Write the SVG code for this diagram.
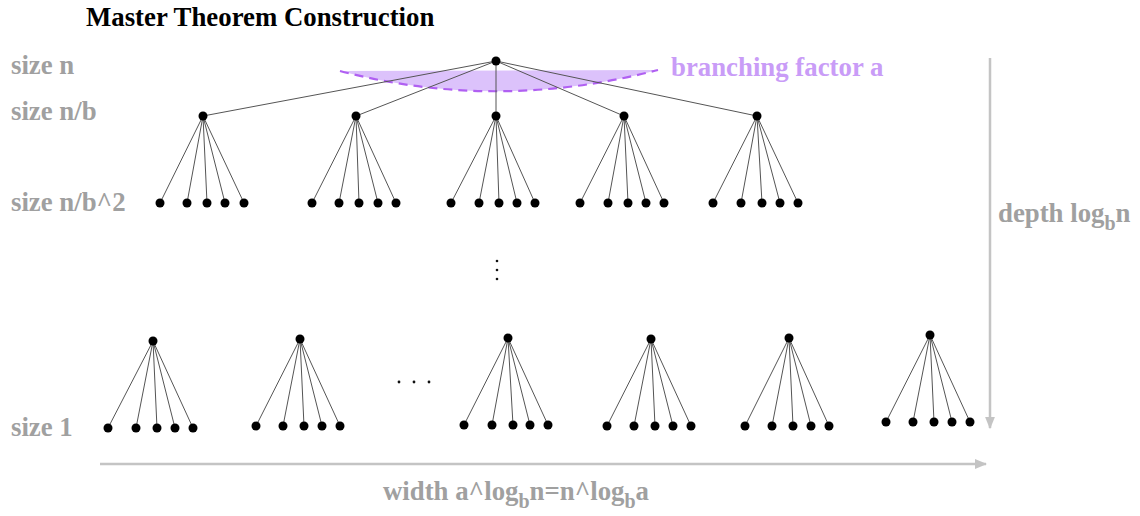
<svg xmlns="http://www.w3.org/2000/svg" width="1140" height="516" viewBox="0 0 1140 516">
  <defs>
    <style>
      .title { font-family: "Liberation Serif", "Times New Roman", serif; font-weight: bold; font-size: 26.8px; fill: #000; }
      .lvl { font-family: "Liberation Serif", "Times New Roman", serif; font-weight: bold; font-size: 26.8px; fill: #a0a0a0; }
      .sub { font-size: 20px; }
      .branch { font-family: "Liberation Serif", "Times New Roman", serif; font-weight: bold; font-size: 26.8px; fill: #c99cf7; }
      .edge { stroke: #555; stroke-width: 1; fill: none; }
      .axis { stroke: #c4c4c4; stroke-width: 2.5; fill: none; }
      .node { fill: #000; }
      .dot { fill: #111; }
      .fan { fill: #dcc2fb; stroke: none; }
      .fanedge { stroke: #b060f2; stroke-width: 2.2; stroke-dasharray: 9 6; fill: none; }
    </style>
    <marker id="arr" viewBox="0 0 10 10" refX="9" refY="5" markerWidth="5" markerHeight="5" orient="auto" markerUnits="strokeWidth">
      <path d="M0,1 L10,5 L0,9 Z" fill="#c4c4c4"/>
    </marker>
  </defs>

  <rect width="1140" height="516" fill="#fff"/>

  <!-- heading and level labels -->
  <text class="title" x="86" y="26">Master Theorem Construction</text>
  <text class="lvl" x="11" y="74">size n</text>
  <text class="lvl" x="11" y="120">size n/b</text>
  <text class="lvl" x="11" y="211">size n/b^2</text>
  <text class="lvl" x="11" y="436">size 1</text>

  <!-- branching fan under the root -->
  <g id="fan">
    <path class="fan" d="M340,71 L658,70 Q496,112 340,71 Z"/>
    <path class="fanedge" d="M340,71 Q496,112 658,70"/>
    <text class="branch" x="671" y="76">branching factor a</text>
  </g>

  <!-- connectors -->
  <g id="connectors">
    <!-- root to first level -->
    <path class="edge" d="M496,61 L203,116 M496,61 L356,116 M496,61 L496,116 M496,61 L624,116 M496,61 L757,116"/>
    <!-- first level to second level -->
    <path class="edge" d="M203,116 L160,203 M203,116 L187,203 M203,116 L207,203 M203,116 L225,203 M203,116 L244,203"/>
    <path class="edge" d="M356,116 L312,203 M356,116 L339,203 M356,116 L359,203 M356,116 L378,203 M356,116 L396,203"/>
    <path class="edge" d="M496,116 L451,203 M496,116 L479,203 M496,116 L499,203 M496,116 L517,203 M496,116 L535,203"/>
    <path class="edge" d="M624,116 L580,203 M624,116 L608,203 M624,116 L628,203 M624,116 L646,203 M624,116 L664,203"/>
    <path class="edge" d="M757,116 L713,203 M757,116 L741,203 M757,116 L762,203 M757,116 L780,203 M757,116 L798,203"/>
    <!-- last level subtrees -->
    <path class="edge" d="M153,341 L108,428 M153,341 L136,428 M153,341 L157,428 M153,341 L175,428 M153,341 L193,428"/>
    <path class="edge" d="M300,339 L256,426 M300,339 L283,426 M300,339 L304,426 M300,339 L322,426 M300,339 L340,426"/>
    <path class="edge" d="M508,338 L464,425 M508,338 L492,425 M508,338 L513,425 M508,338 L530,425 M508,338 L548,425"/>
    <path class="edge" d="M651,339 L607,426 M651,339 L634,426 M651,339 L655,426 M651,339 L673,426 M651,339 L691,426"/>
    <path class="edge" d="M789,338 L745,426 M789,338 L772,426 M789,338 L793,426 M789,338 L811,426 M789,338 L829,426"/>
    <path class="edge" d="M930,335 L886,422 M930,335 L913,422 M930,335 L934,422 M930,335 L952,422 M930,335 L970,422"/>
  </g>

  <!-- root -->
  <g id="root"><circle class="node" cx="496" cy="61" r="4.5"/></g>

  <!-- first level -->
  <g id="level1">
    <circle class="node" cx="203" cy="116" r="4.5"/>
    <circle class="node" cx="356" cy="116" r="4.5"/>
    <circle class="node" cx="496" cy="116" r="4.5"/>
    <circle class="node" cx="624" cy="116" r="4.5"/>
    <circle class="node" cx="757" cy="116" r="4.5"/>
  </g>

  <!-- second level -->
  <g id="level2">
    <circle class="node" cx="160" cy="203" r="4.5"/><circle class="node" cx="187" cy="203" r="4.5"/><circle class="node" cx="207" cy="203" r="4.5"/><circle class="node" cx="225" cy="203" r="4.5"/><circle class="node" cx="244" cy="203" r="4.5"/>
    <circle class="node" cx="312" cy="203" r="4.5"/><circle class="node" cx="339" cy="203" r="4.5"/><circle class="node" cx="359" cy="203" r="4.5"/><circle class="node" cx="378" cy="203" r="4.5"/><circle class="node" cx="396" cy="203" r="4.5"/>
    <circle class="node" cx="451" cy="203" r="4.5"/><circle class="node" cx="479" cy="203" r="4.5"/><circle class="node" cx="499" cy="203" r="4.5"/><circle class="node" cx="517" cy="203" r="4.5"/><circle class="node" cx="535" cy="203" r="4.5"/>
    <circle class="node" cx="580" cy="203" r="4.5"/><circle class="node" cx="608" cy="203" r="4.5"/><circle class="node" cx="628" cy="203" r="4.5"/><circle class="node" cx="646" cy="203" r="4.5"/><circle class="node" cx="664" cy="203" r="4.5"/>
    <circle class="node" cx="713" cy="203" r="4.5"/><circle class="node" cx="741" cy="203" r="4.5"/><circle class="node" cx="762" cy="203" r="4.5"/><circle class="node" cx="780" cy="203" r="4.5"/><circle class="node" cx="798" cy="203" r="4.5"/>
  </g>

  <!-- vertical ellipsis -->
  <g id="vdots">
    <circle class="dot" cx="497" cy="261" r="1.3"/>
    <circle class="dot" cx="497" cy="270" r="1.3"/>
    <circle class="dot" cx="497" cy="279" r="1.3"/>
  </g>

  <!-- last level subtrees -->
  <g id="subtree-a">
    <circle class="node" cx="153" cy="341" r="4.5"/>
    <circle class="node" cx="108" cy="428" r="4.5"/><circle class="node" cx="136" cy="428" r="4.5"/><circle class="node" cx="157" cy="428" r="4.5"/><circle class="node" cx="175" cy="428" r="4.5"/><circle class="node" cx="193" cy="428" r="4.5"/>
  </g>
  <g id="subtree-b">
    <circle class="node" cx="300" cy="339" r="4.5"/>
    <circle class="node" cx="256" cy="426" r="4.5"/><circle class="node" cx="283" cy="426" r="4.5"/><circle class="node" cx="304" cy="426" r="4.5"/><circle class="node" cx="322" cy="426" r="4.5"/><circle class="node" cx="340" cy="426" r="4.5"/>
  </g>
  <g id="hdots">
    <circle class="dot" cx="399" cy="382" r="1.4"/>
    <circle class="dot" cx="414" cy="382" r="1.4"/>
    <circle class="dot" cx="429" cy="382" r="1.4"/>
  </g>
  <g id="subtree-c">
    <circle class="node" cx="508" cy="338" r="4.5"/>
    <circle class="node" cx="464" cy="425" r="4.5"/><circle class="node" cx="492" cy="425" r="4.5"/><circle class="node" cx="513" cy="425" r="4.5"/><circle class="node" cx="530" cy="425" r="4.5"/><circle class="node" cx="548" cy="425" r="4.5"/>
  </g>
  <g id="subtree-d">
    <circle class="node" cx="651" cy="339" r="4.5"/>
    <circle class="node" cx="607" cy="426" r="4.5"/><circle class="node" cx="634" cy="426" r="4.5"/><circle class="node" cx="655" cy="426" r="4.5"/><circle class="node" cx="673" cy="426" r="4.5"/><circle class="node" cx="691" cy="426" r="4.5"/>
  </g>
  <g id="subtree-e">
    <circle class="node" cx="789" cy="338" r="4.5"/>
    <circle class="node" cx="745" cy="426" r="4.5"/><circle class="node" cx="772" cy="426" r="4.5"/><circle class="node" cx="793" cy="426" r="4.5"/><circle class="node" cx="811" cy="426" r="4.5"/><circle class="node" cx="829" cy="426" r="4.5"/>
  </g>
  <g id="subtree-f">
    <circle class="node" cx="930" cy="335" r="4.5"/>
    <circle class="node" cx="886" cy="422" r="4.5"/><circle class="node" cx="913" cy="422" r="4.5"/><circle class="node" cx="934" cy="422" r="4.5"/><circle class="node" cx="952" cy="422" r="4.5"/><circle class="node" cx="970" cy="422" r="4.5"/>
  </g>

  <!-- depth and width axes -->
  <g id="axes">
    <line class="axis" x1="990" y1="58" x2="990" y2="428" marker-end="url(#arr)"/>
    <line class="axis" x1="100" y1="464" x2="986" y2="464" marker-end="url(#arr)"/>
    <text class="lvl" x="998" y="222">depth log<tspan class="sub" dy="8">b</tspan><tspan dy="-8">n</tspan></text>
    <text class="lvl" x="516" y="500" text-anchor="middle">width a^log<tspan class="sub" dy="8">b</tspan><tspan dy="-8">n=n^log</tspan><tspan class="sub" dy="8">b</tspan><tspan dy="-8">a</tspan></text>
  </g>
</svg>
